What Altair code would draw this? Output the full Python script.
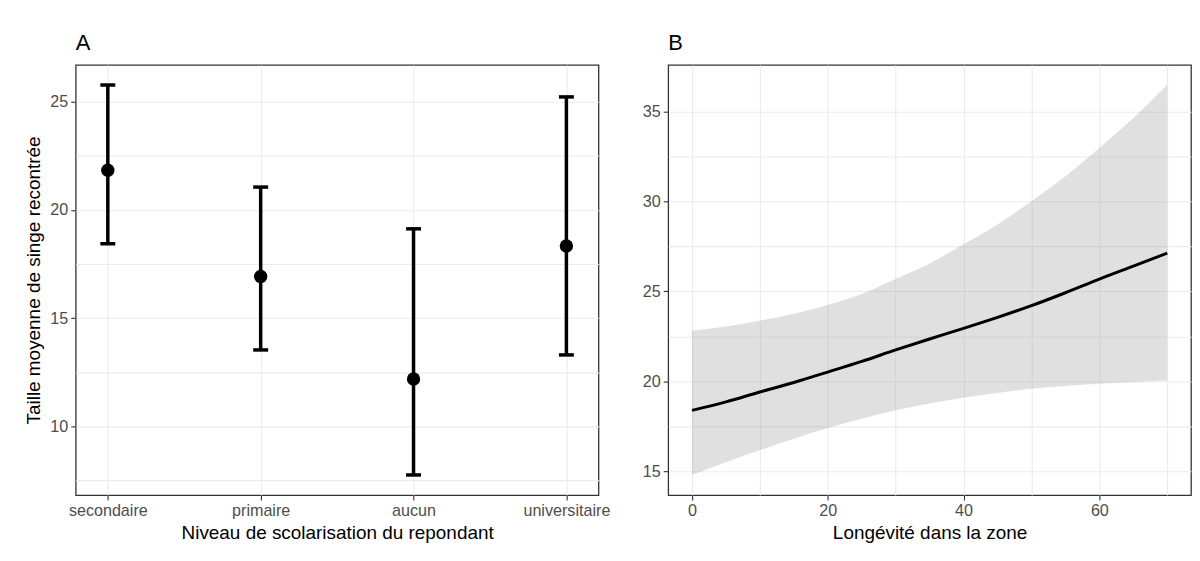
import json
import altair as alt
import pandas as pd

# ---------------- data ----------------
categories = ["secondaire", "primaire", "aucun", "universitaire"]
cat_pos = [1, 2, 3, 4]
means = [21.84, 16.93, 12.19, 18.34]
lower_ci = [18.44, 13.53, 7.75, 13.30]
upper_ci = [25.78, 21.06, 19.13, 25.23]

longevite = [0, 5, 10, 15, 20, 25, 30, 35, 40, 45, 50, 55, 60, 65, 70]
fit = [18.38, 18.85, 19.40, 19.93, 20.51, 21.10, 21.74, 22.35, 22.94, 23.55,
       24.20, 24.92, 25.68, 26.40, 27.12]
fit_lower = [14.78, 15.50, 16.16, 16.80, 17.40, 17.92, 18.38, 18.76, 19.08,
             19.35, 19.58, 19.74, 19.86, 19.96, 20.04]
fit_upper = [22.81, 23.05, 23.37, 23.75, 24.24, 24.85, 25.68, 26.55, 27.62,
             28.72, 30.01, 31.40, 32.97, 34.63, 36.48]

yA_ticks = [7.5, 10, 12.5, 15, 17.5, 20, 22.5, 25]
xA_ticks = [1, 1.5, 2, 2.5, 3, 3.5, 4]
yB_ticks = [15, 17.5, 20, 22.5, 25, 27.5, 30, 32.5, 35]
xB_ticks = [0, 10, 20, 30, 40, 50, 60, 70]

FONT = "Liberation Sans"

dfA = pd.DataFrame({"cat": categories, "pos": cat_pos, "mean": means,
                    "lo": lower_ci, "hi": upper_ci})
dfB = pd.DataFrame({"x": longevite, "fit": fit, "lo": fit_lower, "hi": fit_upper})


def axis(values, major_test, label_expr=None, title_padding=None):
    kw = dict(
        values=values,
        domain=False,
        tickColor="#333333",
        tickWidth=1.1,
        tickSize=5,
        tickOpacity={"condition": {"test": "!(" + major_test + ")", "value": 0}, "value": 1},
        labelColor="#4d4d4d",
        labelFont=FONT,
        labelFontSize=16.2,
        labelPadding=3,
        labelFlush=False,
        labelOverlap=False,
        titleFont=FONT,
        titleFontSize=19,
        titleColor="black",
        titleFontWeight="normal",
        gridColor="#ebebeb",
        gridWidth=1.1,
        format="d",
        labelExpr=label_expr if label_expr else "(" + major_test + ") ? datum.label : ''",
    )
    if title_padding is not None:
        kw["titlePadding"] = title_padding
    return alt.Axis(**kw)


cat_expr = ("datum.value % 1 === 0 ? " + json.dumps(categories) +
            "[datum.value - 1] : ''")

scale_xA = alt.Scale(domain=[0.79, 4.21], nice=False, zero=False)
scale_yA = alt.Scale(domain=[6.82, 26.71], nice=False, zero=False)
axis_xA = axis(xA_ticks, "datum.value % 1 === 0", cat_expr, title_padding=4)
axis_yA = axis(yA_ticks, "datum.value % 5 === 0", title_padding=6)
titleA_y = "Taille moyenne de singe recontrée"
titleA_x = "Niveau de scolarisation du repondant"

xA = alt.X("pos:Q", scale=scale_xA, axis=axis_xA, title=titleA_x)

baseA = alt.Chart(dfA)
rules = baseA.mark_rule(color="black", strokeWidth=3.5).encode(
    x=xA,
    y=alt.Y("lo:Q", scale=scale_yA, axis=axis_yA, title=titleA_y),
    y2="hi:Q",
)
cap_lo = baseA.mark_tick(orient="horizontal", size=15, thickness=3.5,
                         color="black", opacity=1).encode(
    x=xA, y=alt.Y("lo:Q", scale=scale_yA, axis=axis_yA, title=titleA_y))
cap_hi = baseA.mark_tick(orient="horizontal", size=15, thickness=3.5,
                         color="black", opacity=1).encode(
    x=xA, y=alt.Y("hi:Q", scale=scale_yA, axis=axis_yA, title=titleA_y))
pts = baseA.mark_circle(size=180, color="black", opacity=1).encode(
    x=xA, y=alt.Y("mean:Q", scale=scale_yA, axis=axis_yA, title=titleA_y))

title_kw = dict(anchor="start", frame="group", fontSize=22, font=FONT,
                fontWeight="normal", color="black", offset=10)

panelA = alt.layer(rules, cap_lo, cap_hi, pts).properties(
    width=525, height=432, title=alt.Title("A", **title_kw))

scale_xB = alt.Scale(domain=[-3.5, 73.5], nice=False, zero=False)
scale_yB = alt.Scale(domain=[13.67, 37.59], nice=False, zero=False)
axis_xB = axis(xB_ticks, "datum.value % 20 === 0", title_padding=4)
axis_yB = axis(yB_ticks, "datum.value % 5 === 0")
xB = alt.X("x:Q", scale=scale_xB, axis=axis_xB, title="Longévité dans la zone")

baseB = alt.Chart(dfB)
ribbon = baseB.mark_area(color="#999999", opacity=0.3, interpolate="monotone").encode(
    x=xB,
    y=alt.Y("lo:Q", scale=scale_yB, axis=axis_yB, title=None),
    y2="hi:Q",
)
line = baseB.mark_line(color="black", strokeWidth=3, interpolate="monotone").encode(
    x=xB, y=alt.Y("fit:Q", scale=scale_yB, axis=axis_yB, title=None))

panelB = alt.layer(ribbon, line).properties(
    width=525, height=432, title=alt.Title("B", **title_kw))

chart = alt.hconcat(panelA, panelB, spacing=70, bounds="flush").configure(
    padding={"left": 16, "top": 22, "right": 0, "bottom": 0},
    background="white",
).configure_view(stroke="#333333", strokeWidth=1.3)

chart.save("out.html", embed_options={"renderer": "svg", "actions": False})
